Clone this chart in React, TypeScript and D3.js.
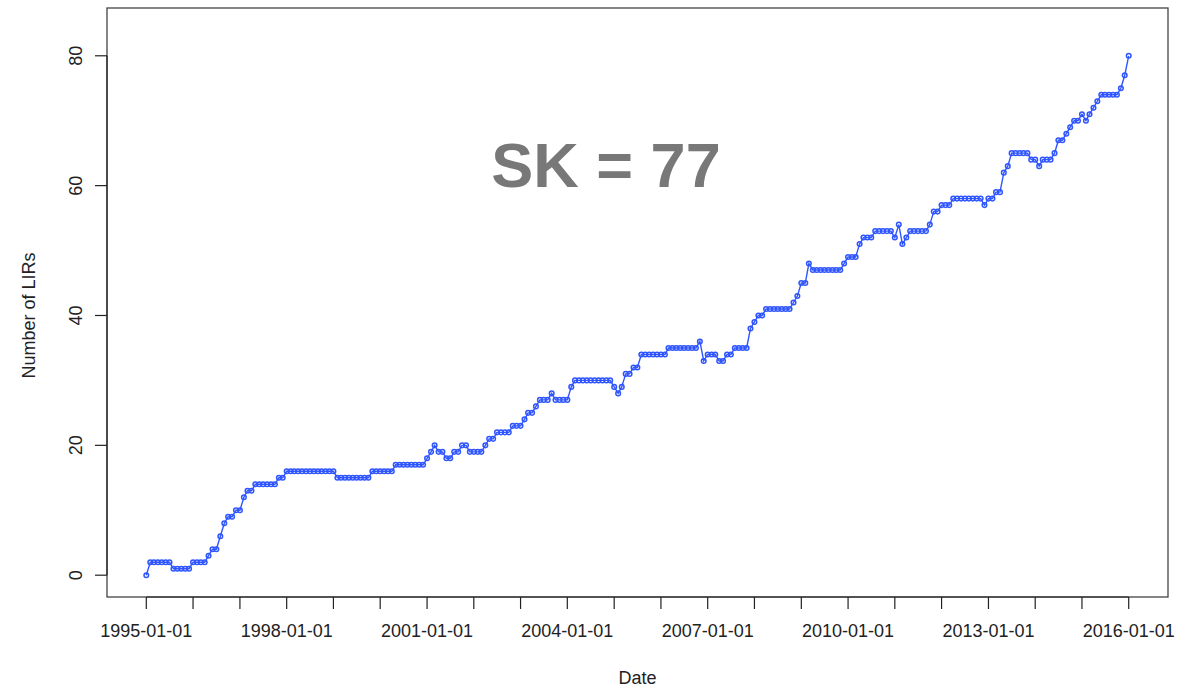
import React from 'react';
import * as d3 from 'd3';

// monthly count of LIRs, first value is 1995-01, one row per year
const lirCounts = [
  0, 2, 2, 2, 2, 2, 2, 1, 1, 1, 1, 1, // 1995
  2, 2, 2, 2, 3, 4, 4, 6, 8, 9, 9, 10, // 1996
  10, 12, 13, 13, 14, 14, 14, 14, 14, 14, 15, 15, // 1997
  16, 16, 16, 16, 16, 16, 16, 16, 16, 16, 16, 16, // 1998
  16, 15, 15, 15, 15, 15, 15, 15, 15, 15, 16, 16, // 1999
  16, 16, 16, 16, 17, 17, 17, 17, 17, 17, 17, 17, // 2000
  18, 19, 20, 19, 19, 18, 18, 19, 19, 20, 20, 19, // 2001
  19, 19, 19, 20, 21, 21, 22, 22, 22, 22, 23, 23, // 2002
  23, 24, 25, 25, 26, 27, 27, 27, 28, 27, 27, 27, // 2003
  27, 29, 30, 30, 30, 30, 30, 30, 30, 30, 30, 30, // 2004
  29, 28, 29, 31, 31, 32, 32, 34, 34, 34, 34, 34, // 2005
  34, 34, 35, 35, 35, 35, 35, 35, 35, 35, 36, 33, // 2006
  34, 34, 34, 33, 33, 34, 34, 35, 35, 35, 35, 38, // 2007
  39, 40, 40, 41, 41, 41, 41, 41, 41, 41, 42, 43, // 2008
  45, 45, 48, 47, 47, 47, 47, 47, 47, 47, 47, 48, // 2009
  49, 49, 49, 51, 52, 52, 52, 53, 53, 53, 53, 53, // 2010
  52, 54, 51, 52, 53, 53, 53, 53, 53, 54, 56, 56, // 2011
  57, 57, 57, 58, 58, 58, 58, 58, 58, 58, 58, 57, // 2012
  58, 58, 59, 59, 62, 63, 65, 65, 65, 65, 65, 64, // 2013
  64, 63, 64, 64, 64, 65, 67, 67, 68, 69, 70, 70, // 2014
  71, 70, 71, 72, 73, 74, 74, 74, 74, 74, 75, 77, // 2015
  80, // 2016
];

const firstMonth = new Date(Date.UTC(1995, 0, 1));
const tickYears = d3.range(1995, 2017);
const labelYears = [1995, 1998, 2001, 2004, 2007, 2010, 2013, 2016];
const yTicks = [0, 20, 40, 60, 80];
const yLimits = [0, 84];
const title = 'SK = 77';

const App = () => {
  const svgWidth = 1202;
  const svgHeight = 689;
  const box = { left: 107, right: 1168, top: 8, bottom: 597 };
  const font = 'Liberation Sans, Arial, Helvetica, sans-serif';
  const axisColor = '#222';
  const pointColor = '#2f55ff';
  const fontSize = 18;

  const data = lirCounts.map((v, i) => ({ date: d3.utcMonth.offset(firstMonth, i), value: v }));

  // R style 4% padding around the data range
  const xExt = d3.extent(data, d => d.date.getTime()) as [number, number];
  const xPad = (xExt[1] - xExt[0]) * 0.04;
  const x = d3.scaleUtc()
    .domain([new Date(xExt[0] - xPad), new Date(xExt[1] + xPad)])
    .range([box.left, box.right]);

  const yPad = (yLimits[1] - yLimits[0]) * 0.04;
  const y = d3.scaleLinear()
    .domain([yLimits[0] - yPad, yLimits[1] + yPad])
    .range([box.bottom, box.top]);

  const line = d3.line<{ date: Date; value: number }>()
    .x(d => x(d.date))
    .y(d => y(d.value));

  const yearDate = (yr: number) => new Date(Date.UTC(yr, 0, 1));
  const fmt = d3.utcFormat('%Y-%m-%d');

  return (
    <svg width={svgWidth} height={svgHeight} style={{ position: 'absolute', left: 0, top: 0, background: '#fff' }}>
      <rect x={0} y={0} width={svgWidth} height={svgHeight} fill="#fff" />

      <text x={606} y={187} textAnchor="middle" fontFamily={font} fontWeight="bold" fontSize={63} fill="#787878">{title}</text>

      <path d={line(data) || ''} fill="none" stroke={pointColor} strokeWidth={1.4} />
      {data.map((d, i) => (
        <circle key={i} cx={x(d.date)} cy={y(d.value)} r={2.3} fill="none" stroke={pointColor} strokeWidth={1.5} />
      ))}

      <rect x={box.left} y={box.top} width={box.right - box.left} height={box.bottom - box.top} fill="none" stroke="#444" strokeWidth={1.3} />

      {/* x axis */}
      <g fontFamily={font} fontSize={fontSize} textAnchor="middle" fill="#222">
        <line x1={x(yearDate(1995))} x2={x(yearDate(2016))} y1={box.bottom} y2={box.bottom} stroke={axisColor} strokeWidth={1.2} />
        {tickYears.map(yr => (
          <line key={yr} x1={x(yearDate(yr))} x2={x(yearDate(yr))} y1={box.bottom} y2={box.bottom + 12} stroke={axisColor} strokeWidth={1.2} />
        ))}
        {labelYears.map(yr => (
          <text key={yr} x={x(yearDate(yr))} y={637}>{fmt(yearDate(yr))}</text>
        ))}
        <text x={(box.left + box.right) / 2} y={684}>Date</text>
      </g>

      {/* y axis */}
      <g fontFamily={font} fontSize={fontSize} textAnchor="middle" fill="#222">
        <line x1={box.left} x2={box.left} y1={y(yTicks[0])} y2={y(yTicks[yTicks.length - 1])} stroke={axisColor} strokeWidth={1.2} />
        {yTicks.map(t => (
          <g key={t}>
            <line x1={box.left - 12} x2={box.left} y1={y(t)} y2={y(t)} stroke={axisColor} strokeWidth={1.2} />
            <text transform={`translate(82,${y(t)}) rotate(-90)`}>{t}</text>
          </g>
        ))}
        <text transform={`translate(35,${(y(0) + y(80)) / 2}) rotate(-90)`}>Number of LIRs</text>
      </g>
    </svg>
  );
};

export default App;
